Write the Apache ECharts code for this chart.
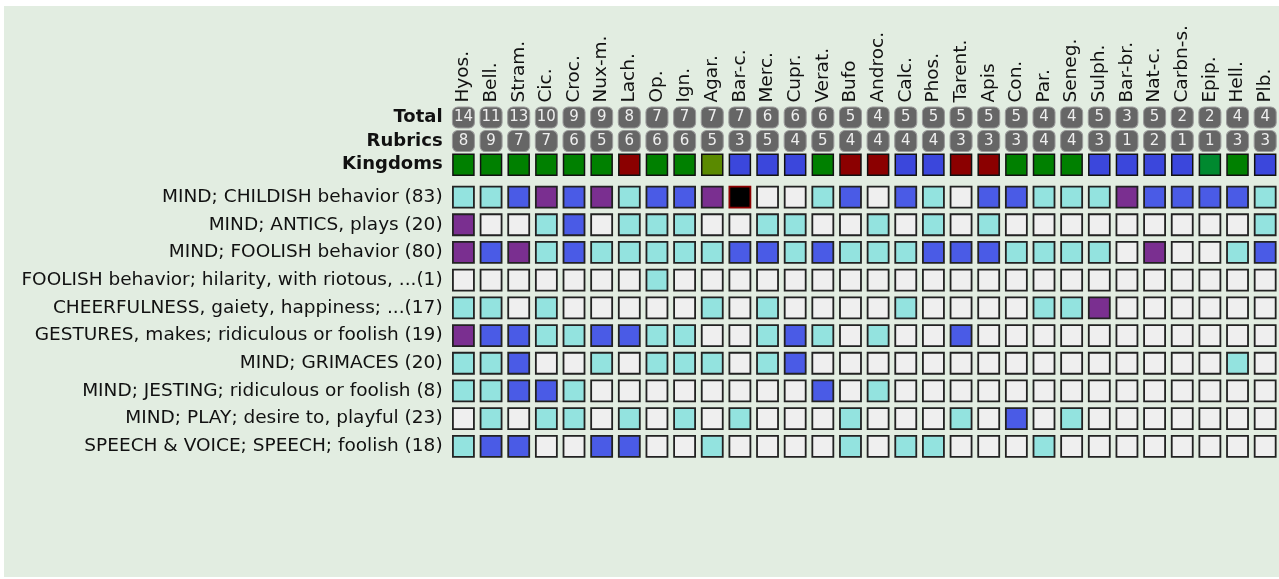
<!DOCTYPE html>
<html>
<head>
<meta charset="utf-8">
<script src="https://cdn.jsdelivr.net/npm/echarts@6/dist/echarts.min.js"></script>
<style>
  body { margin: 0; background: #ffffff; }
  #bg { position: absolute; left: 4px; top: 6px; width: 1275px; height: 571px; background: #e2ede1; }
  #chart { position: absolute; left: 0; top: 0; width: 1279px; height: 579px; }
</style>
</head>
<body>
<div id="bg"></div>
<div id="chart"></div>
<script>
var remedies = ['Hyos.', 'Bell.', 'Stram.', 'Cic.', 'Croc.', 'Nux-m.', 'Lach.', 'Op.', 'Ign.', 'Agar.',
  'Bar-c.', 'Merc.', 'Cupr.', 'Verat.', 'Bufo', 'Androc.', 'Calc.', 'Phos.', 'Tarent.', 'Apis',
  'Con.', 'Par.', 'Seneg.', 'Sulph.', 'Bar-br.', 'Nat-c.', 'Carbn-s.', 'Epip.', 'Hell.', 'Plb.']
var totals = [14, 11, 13, 10, 9, 9, 8, 7, 7, 7, 7, 6, 6, 6, 5, 4, 5, 5, 5, 5, 5, 4, 4, 5, 3, 5, 2, 2, 4, 4]
var rubricCounts = [8, 9, 7, 7, 6, 5, 6, 6, 6, 5, 3, 5, 4, 5, 4, 4, 4, 4, 3, 3, 3, 4, 4, 3, 1, 2, 1, 1, 3, 3]
var kingdoms = ['plant', 'plant', 'plant', 'plant', 'plant', 'plant', 'animal', 'plant', 'plant', 'fungus',
  'mineral', 'mineral', 'mineral', 'plant', 'animal', 'animal', 'mineral', 'mineral', 'animal', 'animal',
  'plant', 'plant', 'plant', 'mineral', 'mineral', 'mineral', 'mineral', 'plant2', 'plant', 'mineral']
var headerRows = ['Total', 'Rubrics', 'Kingdoms']
var rubrics = [
  'MIND; CHILDISH behavior (83)',
  'MIND; ANTICS, plays (20)',
  'MIND; FOOLISH behavior (80)',
  'FOOLISH behavior; hilarity, with riotous, ...(1)',
  'CHEERFULNESS, gaiety, happiness; ...(17)',
  'GESTURES, makes; ridiculous or foolish (19)',
  'MIND; GRIMACES (20)',
  'MIND; JESTING; ridiculous or foolish (8)',
  'MIND; PLAY; desire to, playful (23)',
  'SPEECH & VOICE; SPEECH; foolish (18)'
]
// grade of each remedy in each rubric (0 = not present)
var grades = [
  [1, 1, 2, 3, 2, 3, 1, 2, 2, 3, 4, 0, 0, 1, 2, 0, 2, 1, 0, 2, 2, 1, 1, 1, 3, 2, 2, 2, 2, 1],
  [3, 0, 0, 1, 2, 0, 1, 1, 1, 0, 0, 1, 1, 0, 0, 1, 0, 1, 0, 1, 0, 0, 0, 0, 0, 0, 0, 0, 0, 1],
  [3, 2, 3, 1, 2, 1, 1, 1, 1, 1, 2, 2, 1, 2, 1, 1, 1, 2, 2, 2, 1, 1, 1, 1, 0, 3, 0, 0, 1, 2],
  [0, 0, 0, 0, 0, 0, 0, 1, 0, 0, 0, 0, 0, 0, 0, 0, 0, 0, 0, 0, 0, 0, 0, 0, 0, 0, 0, 0, 0, 0],
  [1, 1, 0, 1, 0, 0, 0, 0, 0, 1, 0, 1, 0, 0, 0, 0, 1, 0, 0, 0, 0, 1, 1, 3, 0, 0, 0, 0, 0, 0],
  [3, 2, 2, 1, 1, 2, 2, 1, 1, 0, 0, 1, 2, 1, 0, 1, 0, 0, 2, 0, 0, 0, 0, 0, 0, 0, 0, 0, 0, 0],
  [1, 1, 2, 0, 0, 1, 0, 1, 1, 1, 0, 1, 2, 0, 0, 0, 0, 0, 0, 0, 0, 0, 0, 0, 0, 0, 0, 0, 1, 0],
  [1, 1, 2, 2, 1, 0, 0, 0, 0, 0, 0, 0, 0, 2, 0, 1, 0, 0, 0, 0, 0, 0, 0, 0, 0, 0, 0, 0, 0, 0],
  [0, 1, 0, 1, 1, 0, 1, 0, 1, 0, 1, 0, 0, 0, 1, 0, 0, 0, 1, 0, 2, 0, 1, 0, 0, 0, 0, 0, 0, 0],
  [1, 2, 2, 0, 0, 2, 2, 0, 0, 1, 0, 0, 0, 0, 1, 0, 1, 1, 0, 0, 0, 1, 0, 0, 0, 0, 0, 0, 0, 0]
]

var gradeColors = ['#efefef', '#93e3df', '#4a5be6', '#7a2f90', '#000000']
var kingdomColors = { plant: '#008000', animal: '#8b0000', mineral: '#3b47dc', fungus: '#5a8a00', plant2: '#00892f' }
var labelFont = 'DejaVu Sans'

var cellData = []
grades.forEach(function (row, r) {
  row.forEach(function (g, c) {
    cellData.push({
      value: [c, r, g],
      itemStyle: {
        color: gradeColors[g],
        borderColor: g === 4 ? '#8b0000' : '#222222'
      }
    })
  })
})
var totalData = totals.map(function (v, i) { return [i, 0, v] })
var rubricData = rubricCounts.map(function (v, i) { return [i, 1, v] })
var kingdomData = kingdoms.map(function (k, i) {
  return { value: [i, 2], itemStyle: { color: kingdomColors[k] } }
})

var chart = echarts.init(document.getElementById('chart'))
var gridLeft = 449.6
var gridWidth = 831
var greyLabel = {
  show: true,
  position: 'inside',
  color: '#eeeeee',
  fontFamily: labelFont,
  fontSize: 15,
  formatter: function (p) { return p.value[2] }
}
chart.setOption({
  backgroundColor: 'transparent',
  animation: false,
  grid: [
    { left: gridLeft, width: gridWidth, top: 105.6, height: 71 },
    { left: gridLeft, width: gridWidth, top: 183.2, height: 277 }
  ],
  xAxis: [
    {
      type: 'category', gridIndex: 0, position: 'top', data: remedies,
      axisLine: { show: false }, axisTick: { show: false },
      axisLabel: { rotate: -90, margin: 3, interval: 0, color: '#111', fontFamily: labelFont, fontSize: 18.5 }
    },
    {
      type: 'category', gridIndex: 1, data: remedies,
      axisLine: { show: false }, axisTick: { show: false }, axisLabel: { show: false }
    }
  ],
  yAxis: [
    {
      type: 'category', gridIndex: 0, data: headerRows, inverse: true,
      axisLine: { show: false }, axisTick: { show: false },
      axisLabel: { margin: 7, color: '#111', fontFamily: labelFont, fontSize: 18, fontWeight: 'bold' }
    },
    {
      type: 'category', gridIndex: 1, data: rubrics, inverse: true,
      axisLine: { show: false }, axisTick: { show: false },
      axisLabel: { margin: 7, interval: 0, color: '#111', fontFamily: labelFont, fontSize: 18.5 }
    }
  ],
  series: [
    {
      type: 'scatter', xAxisIndex: 0, yAxisIndex: 0, data: totalData,
      symbol: 'roundRect', symbolSize: [22, 21],
      itemStyle: { color: '#666666', borderColor: '#9a9a9a', borderWidth: 1, opacity: 1 },
      label: greyLabel
    },
    {
      type: 'scatter', xAxisIndex: 0, yAxisIndex: 0, data: rubricData,
      symbol: 'roundRect', symbolSize: [22, 21],
      itemStyle: { color: '#666666', borderColor: '#9a9a9a', borderWidth: 1, opacity: 1 },
      label: greyLabel
    },
    {
      type: 'scatter', xAxisIndex: 0, yAxisIndex: 0, data: kingdomData,
      symbol: 'rect', symbolSize: [21, 21],
      itemStyle: { borderColor: '#111111', borderWidth: 1.5, opacity: 1 }
    },
    {
      type: 'scatter', xAxisIndex: 1, yAxisIndex: 1, data: cellData,
      symbol: 'rect', symbolSize: [21, 21],
      itemStyle: { borderWidth: 1.8, opacity: 1 }
    }
  ]
})
</script>
</body>
</html>
